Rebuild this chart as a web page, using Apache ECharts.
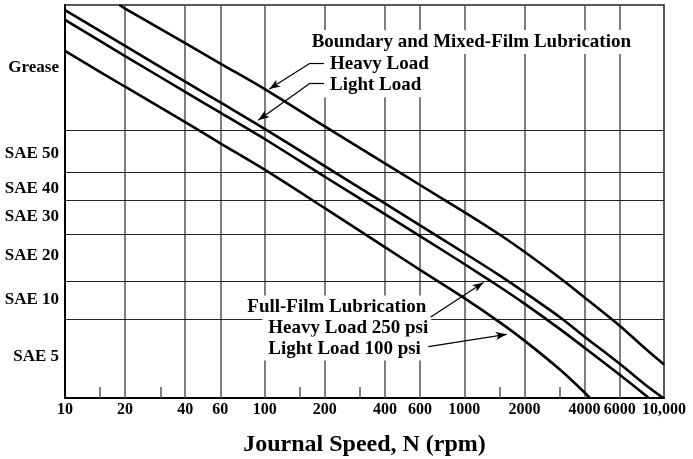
<!DOCTYPE html>
<html><head><meta charset="utf-8">
<script src="https://cdn.jsdelivr.net/npm/echarts@6/dist/echarts.min.js"></script>
<style>html,body{margin:0;padding:0;background:#fff}#c{width:693px;height:459px}</style>
</head><body><div id="c"></div>
<script>
// ---- data ----
const speedTicks = [10, 20, 40, 60, 100, 200, 400, 600, 1000, 2000, 4000, 6000, 10000];
const gridSpeeds = [20, 40, 60, 100, 200, 400, 600, 1000, 2000, 4000, 6000];
const minorSpeeds = [15, 30, 150, 300, 1500, 3000];
const gradeLabels = ['SAE 5', 'SAE 10', 'SAE 20', 'SAE 30', 'SAE 40', 'SAE 50', 'Grease'];
const gradeLabelPos = [10.6, 25.0, 36.3, 46.2, 53.3, 62.3, 84.0];
const gradeEdges = [20.0, 29.8, 41.7, 50.2, 57.4, 68.2];

const boundaryHeavySpeed = [18.7, 20, 40, 60, 100, 200, 400, 600, 1000, 1500, 2000, 3000, 4000, 6000, 8000, 10000];
const boundaryHeavy      = [100, 99.1, 90.3, 85.1, 78.6, 69.1, 59.7, 54.2, 47.3, 41.6, 37.2, 30.6, 25.6, 18.4, 12.7, 8.5];
const boundaryLightSpeed = [10, 20, 40, 60, 100, 200, 400, 600, 1000, 1500, 2000, 3000, 4000, 6000, 8000, 9900];
const boundaryLight      = [98.7, 89.6, 80.5, 75.2, 68.5, 59.0, 49.5, 43.9, 36.9, 31.2, 26.9, 20.6, 15.6, 8.7, 3.5, 0];
const fullHeavySpeed     = [10, 20, 40, 60, 100, 200, 400, 600, 1000, 1500, 2000, 3000, 4000, 6000, 8400];
const fullHeavy          = [96.2, 87.0, 77.9, 72.6, 65.9, 56.3, 46.8, 41.2, 34.1, 28.3, 24.0, 17.6, 12.8, 5.9, 0];
const fullLightSpeed     = [10, 20, 40, 60, 100, 200, 400, 600, 1000, 1500, 2000, 3000, 4000, 4250];
const fullLight          = [88.3, 79.2, 70.2, 64.8, 58.1, 48.3, 38.4, 32.6, 25.4, 19.3, 14.6, 7.3, 1.4, 0];

// annotation arrows in data space [speed, position]
const arrowLines = [
  [[200.5, 85.2], [168.7, 85.2]],
  [[200.5, 80.1], [168.7, 80.1]]
];
const arrowHeads = [
  [[168.7, 85.2], [105.5, 78.6]],
  [[168.7, 80.1], [92.9, 70.7]],
  [[673, 20.5], [1247, 29.4]],
  [[660, 13.05], [1630, 16.2]]
];

// ---- chart ----
const FONT = '"Liberation Serif", "Times New Roman", serif';
const chart = echarts.init(document.getElementById('c'), null, {renderer: 'canvas'});

function pairs(xs, ys) { return xs.map((x, i) => [x, ys[i]]); }
function curve(name, xs, ys) {
  return {
    name, type: 'line', data: pairs(xs, ys), showSymbol: false, smooth: 0.3, z: 5,
    lineStyle: {color: '#000', width: 2.6}, silent: true
  };
}
const txtBase = {fontFamily: FONT, fontWeight: 'bold', fontSize: 19, fill: '#000',
  backgroundColor: '#fff', align: 'left', verticalAlign: 'middle',
  textAlign: 'left', textVerticalAlign: 'middle'};
function label(text, x, y, lh, pad) {
  return {type: 'text', x, y, z: 10, silent: true,
    style: Object.assign({}, txtBase, {text, lineHeight: lh, padding: pad})};
}

chart.setOption({
  animation: false,
  backgroundColor: '#fff',
  grid: {left: 65, right: 29, top: 5, bottom: 61, show: true, borderColor: '#222', borderWidth: 1.5,
         containLabel: false, outerBoundsMode: 'none'},
  xAxis: [{
    type: 'log', logBase: 10, min: 10, max: 10000,
    name: 'Journal Speed, N (rpm)', nameLocation: 'middle', nameGap: 35,
    nameTextStyle: {fontFamily: FONT, fontWeight: 'bold', fontSize: 24, color: '#000'},
    axisLine: {show: true, lineStyle: {color: '#000', width: 2}},
    axisTick: {show: false},
    minorTick: {show: false},
    splitLine: {show: false},
    axisLabel: {
      customValues: speedTicks, margin: 4,
      fontFamily: FONT, fontWeight: 'bold', fontSize: 16, color: '#000',
      formatter: v => (v >= 10000 ? '10,000' : String(Math.round(v)))
    }
  }, {
    type: 'log', logBase: 10, min: 10, max: 10000, position: 'bottom',
    axisLine: {show: false}, axisLabel: {show: false}, splitLine: {show: false},
    axisTick: {show: true, inside: true, length: 11, customValues: minorSpeeds, lineStyle: {color: '#555', width: 1.5}}
  }],
  yAxis: {
    type: 'value', min: 0, max: 100,
    axisLine: {show: true, lineStyle: {color: '#000', width: 2}},
    axisTick: {show: false},
    splitLine: {show: false},
    axisLabel: {
      customValues: gradeLabelPos, margin: 6,
      fontFamily: FONT, fontWeight: 'bold', fontSize: 17, color: '#000',
      formatter: v => {
        const i = gradeLabelPos.findIndex(p => Math.abs(p - v) < 1e-6);
        return i >= 0 ? gradeLabels[i] : '';
      }
    }
  },
  graphic: [
    label('Boundary and Mixed-Film Lubrication', 307.7, 41.9, 22, [1, 4, 1, 4]),
    label('Heavy Load', 324, 64.3, 21, [1, 4, 1, 6]),
    label('Light Load', 324, 85.3, 21, [1, 4, 2, 6]),
    label('Full-Film Lubrication', 244.3, 306.9, 21, [2, 3, 0, 3]),
    label('Heavy Load 250 psi', 262.3, 327.9, 21, [1, 3, 0, 6]),
    label('Light Load 100 psi', 262.3, 348.6, 21, [0, 3, 3, 6])
  ],
  series: [
    {
      type: 'line', data: [], z: 1, silent: true,
      markLine: {
        silent: true, symbol: ['none', 'none'], label: {show: false}, animation: false,
        data: gridSpeeds.map(s => ({xAxis: s, lineStyle: {color: '#555', width: 1.5, type: 'solid'}}))
          .concat(gradeEdges.map(v => ({yAxis: v, lineStyle: {color: '#222', width: 1.2, type: 'solid'}})))
      }
    },
    curve('Boundary heavy load', boundaryHeavySpeed, boundaryHeavy),
    curve('Boundary light load', boundaryLightSpeed, boundaryLight),
    curve('Full-film heavy load 250 psi', fullHeavySpeed, fullHeavy),
    curve('Full-film light load 100 psi', fullLightSpeed, fullLight),
    {
      type: 'line', data: [], z: 20, silent: true,
      markLine: {
        silent: true, label: {show: false}, animation: false,
        lineStyle: {color: '#000', width: 1.2, type: 'solid'},
        symbolSize: [6, 11],
        data: arrowLines.map(p => [{coord: p[0], symbol: 'none'}, {coord: p[1], symbol: 'none'}])
          .concat(arrowHeads.map(p => [{coord: p[0], symbol: 'none'}, {coord: p[1], symbol: 'arrow'}]))
      }
    }
  ]
});
</script></body></html>
